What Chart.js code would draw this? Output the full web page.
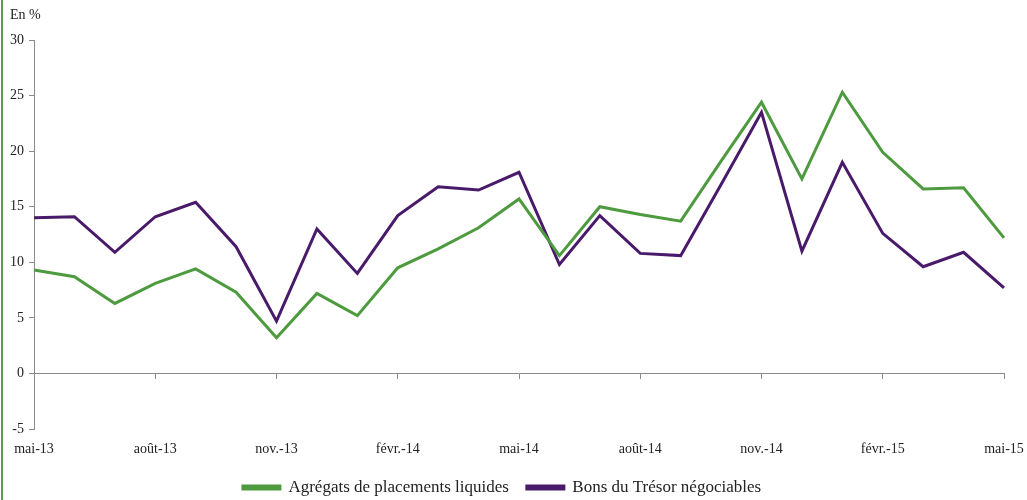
<!DOCTYPE html>
<html lang="fr">
<head>
  <meta charset="UTF-8">
  <title>Agrégats de placements liquides et bons du Trésor</title>
  <script src="https://cdn.jsdelivr.net/npm/chart.js"></script>
  <style>
    body { margin: 0; background: #fff; }
    .cadre { position: relative; width: 1027px; height: 500px; }
    .bord { position: absolute; left: 1px; top: 0; width: 2px; height: 500px; background: #5c9e4c; }
    .unite { position: absolute; left: 10px; top: 7px; font: 14px "Liberation Serif", serif; color: #222; }
  </style>
</head>
<body>

<div class="cadre">
  <canvas id="graphique" width="1027" height="500"></canvas>
  <div class="bord"></div>
  <div class="unite">En %</div>
</div>

<script>
  // mois de mai-13 à mai-15
  const mois = ['mai-13', 'juin-13', 'juil.-13', 'août-13', 'sept.-13', 'oct.-13', 'nov.-13', 'déc.-13',
    'janv.-14', 'févr.-14', 'mars-14', 'avr.-14', 'mai-14', 'juin-14', 'juil.-14', 'août-14',
    'sept.-14', 'oct.-14', 'nov.-14', 'déc.-14', 'janv.-15', 'févr.-15', 'mars-15', 'avr.-15', 'mai-15'];

  const agregats = [9.3, 8.7, 6.3, 8.1, 9.4, 7.3, 3.2, 7.2, 5.2, 9.5, 11.2, 13.1, 15.7,
    10.6, 15.0, 14.3, 13.7, 19.1, 24.4, 17.5, 25.3, 19.9, 16.6, 16.7, 12.2];
  const bonsTresor = [14.0, 14.1, 10.9, 14.1, 15.4, 11.4, 4.7, 13.0, 9.0, 14.2, 16.8, 16.5, 18.1,
    9.8, 14.2, 10.8, 10.6, 17.0, 23.5, 11.0, 19.0, 12.6, 9.6, 10.9, 7.7];

  const police = 'Liberation Serif';
  const gris = '#8a8a8a';

  new Chart(document.getElementById('graphique'), {
    type: 'line',
    data: {
      labels: mois,
      datasets: [
        { label: 'Agrégats de placements liquides', data: agregats, borderColor: '#4e9a3f', backgroundColor: '#4e9a3f',
          borderWidth: 3, pointRadius: 0, tension: 0, xAxisID: 'x' },
        { label: 'Bons du Trésor négociables', data: bonsTresor, borderColor: '#4a1a6a', backgroundColor: '#4a1a6a',
          borderWidth: 3, pointRadius: 0, tension: 0, xAxisID: 'x' }
      ]
    },
    options: {
      responsive: false,
      animation: false,
      layout: { padding: { left: 0, top: 40, right: 23, bottom: -6 } },
      plugins: {
        tooltip: { enabled: false },
        legend: {
          position: 'bottom',
          labels: {
            boxWidth: 37, boxHeight: 3, padding: 18,
            color: '#222', font: { family: police, size: 17 }
          }
        }
      },
      scales: {
        x: {
          type: 'category',
          position: { y: 0 },
          border: { display: true, color: gris, width: 1 },
          grid: {
            drawOnChartArea: false, drawTicks: true, tickLength: 5,
            tickColor: ctx => ctx.index % 3 === 0 && ctx.index > 0 ? gris : 'rgba(0,0,0,0)'
          },
          ticks: { display: false, autoSkip: false }
        },
        x2: {
          type: 'category',
          labels: mois,
          position: 'bottom',
          border: { display: false },
          grid: { display: false, drawTicks: false },
          ticks: {
            autoSkip: false, maxRotation: 0, padding: 12,
            color: '#222', font: { family: police, size: 14 },
            callback: (v, i) => i % 3 === 0 ? mois[i] : null
          },
          afterFit: s => { s.height = 32; s.paddingLeft = 0; s.paddingRight = 0; }
        },
        y: {
          min: -5, max: 30,
          border: { display: true, color: gris, width: 1 },
          grid: { drawOnChartArea: false, tickLength: 5, tickColor: gris },
          ticks: { stepSize: 5, padding: 5, color: '#222', font: { family: police, size: 14 } },
          afterFit: s => { s.width = 34; }
        }
      }
    }
  });
</script>

</body>
</html>
